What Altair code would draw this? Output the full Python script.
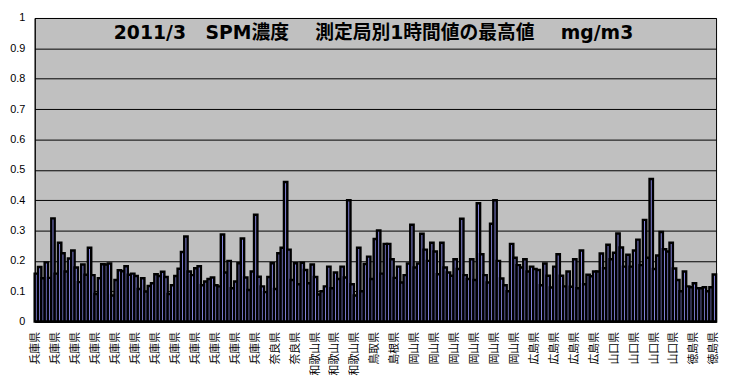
import altair as alt
import pandas as pd

title_text = "2011/3\u00a0\u00a0\u00a0SPM濃度\u00a0\u00a0\u00a0\u00a0測定局別1時間値の最高値\u00a0\u00a0\u00a0\u00a0mg/m3"

label_names = (["兵庫県"] * 12 + ["奈良県"] * 2 + ["和歌山県"] * 3 + ["鳥取県", "島根県"]
               + ["岡山県"] * 6 + ["広島県"] * 4 + ["山口県"] * 4 + ["徳島県"] * 2)
label_every = 6

values = [
    0.158, 0.18, 0.143, 0.195, 0.144, 0.34, 0.158, 0.26, 0.225, 0.165,
    0.208, 0.234, 0.178, 0.13, 0.188, 0.154, 0.243, 0.153, 0.091, 0.143,
    0.189, 0.188, 0.191, 0.086, 0.137, 0.169, 0.166, 0.182, 0.154, 0.158,
    0.15, 0.107, 0.143, 0.099, 0.117, 0.126, 0.156, 0.15, 0.164, 0.147,
    0.091, 0.12, 0.15, 0.174, 0.229, 0.28, 0.165, 0.153, 0.176, 0.182,
    0.12, 0.132, 0.14, 0.145, 0.12, 0.116, 0.287, 0.162, 0.2, 0.11,
    0.132, 0.192, 0.274, 0.145, 0.104, 0.165, 0.352, 0.148, 0.116, 0.097,
    0.147, 0.192, 0.107, 0.225, 0.243, 0.46, 0.237, 0.137, 0.192, 0.123,
    0.194, 0.17, 0.126, 0.188, 0.147, 0.089, 0.1, 0.116, 0.181, 0.11,
    0.162, 0.14, 0.181, 0.145, 0.40, 0.123, 0.086, 0.243, 0.1, 0.19,
    0.214, 0.14, 0.272, 0.30, 0.158, 0.256, 0.256, 0.205, 0.144, 0.181,
    0.129, 0.153, 0.191, 0.319, 0.178, 0.191, 0.289, 0.237, 0.2, 0.26,
    0.231, 0.156, 0.26, 0.178, 0.162, 0.151, 0.205, 0.173, 0.339, 0.153,
    0.14, 0.205, 0.137, 0.39, 0.222, 0.153, 0.129, 0.322, 0.40, 0.2,
    0.142, 0.12, 0.1, 0.256, 0.21, 0.186, 0.178, 0.205, 0.165, 0.181,
    0.173, 0.17, 0.12, 0.191, 0.151, 0.112, 0.181, 0.222, 0.151, 0.116,
    0.165, 0.115, 0.205, 0.11, 0.234, 0.123, 0.154, 0.149, 0.165, 0.165,
    0.224, 0.176, 0.253, 0.205, 0.227, 0.29, 0.244, 0.181, 0.22, 0.181,
    0.234, 0.27, 0.186, 0.335, 0.21, 0.47, 0.173, 0.218, 0.295, 0.238,
    0.231, 0.26, 0.175, 0.137, 0.1, 0.165, 0.116, 0.113, 0.126, 0.11,
    0.11, 0.113, 0.1, 0.113, 0.155,
]
station = list(range(len(values)))
y_ticks = [round(i * 0.1, 1) for i in range(11)]

df = pd.DataFrame({"station": station, "value": values})

label_js = "[" + ",".join("'%s'" % n for n in label_names) + "]"
label_expr = "%s[floor(datum.value / %d)]" % (label_js, label_every)
tick_vals = [i for i in station if i % label_every == 0]

bars = alt.Chart(df).mark_bar(fill="#9999FF", stroke="black", strokeWidth=2.5).encode(
    x=alt.X("station:O",
            scale=alt.Scale(paddingInner=0, paddingOuter=0),
            axis=alt.Axis(values=tick_vals, labelExpr=label_expr, labelAngle=270,
                          ticks=False, domain=True, domainColor="black",
                          labelFont="Noto Sans CJK JP", labelFontSize=11,
                          labelColor="black", labelPadding=10, title=None)),
    y=alt.Y("value:Q",
            scale=alt.Scale(domain=[0, 1], nice=False),
            axis=alt.Axis(values=y_ticks, format="~g", grid=True, gridColor="black",
                          gridWidth=1, gridOpacity=1, ticks=False, domain=True,
                          domainColor="black", labelFont="Liberation Sans",
                          labelFontSize=11, labelColor="black", labelPadding=10,
                          title=None)),
)

title = alt.Chart(pd.DataFrame({"t": [title_text]})).mark_text(
    align="left", baseline="alphabetic", font="DejaVu Sans, Noto Sans CJK JP",
    fontSize=19, fontWeight="bold", color="black"
).encode(x=alt.value(80), y=alt.value(21), text="t:N")

chart = alt.layer(bars, title).properties(
    width=689, height=307,
    autosize=alt.AutoSizeParams(type="none"),
    padding={"left": 27, "top": 8, "right": 5, "bottom": 60},
).configure_view(fill="#C0C0C0", stroke="black", strokeWidth=1)

chart.save("out.html", embed_options={"renderer": "svg", "actions": False})
